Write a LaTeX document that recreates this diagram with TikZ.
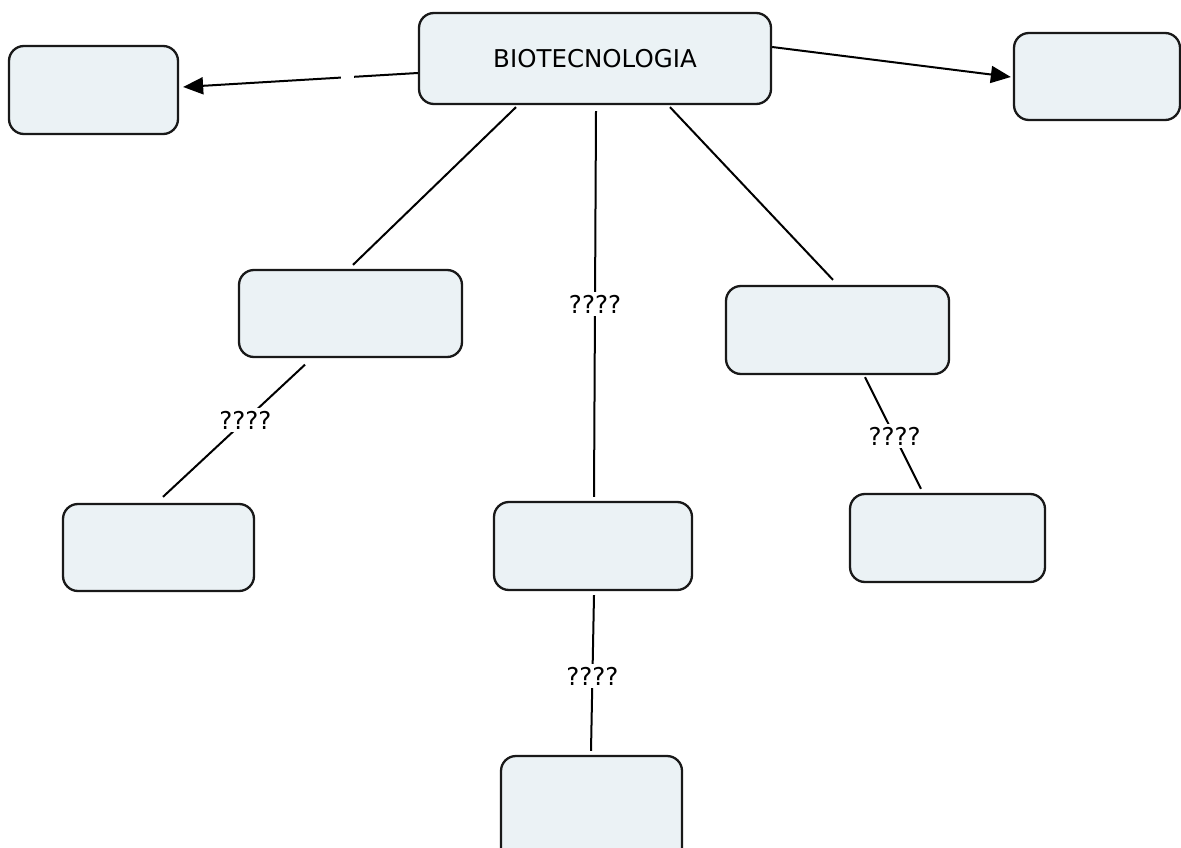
\documentclass[tikz,border=0pt]{standalone}
\usepackage{fontspec}
\setmainfont{DejaVu Sans}
\usetikzlibrary{arrows.meta}
\definecolor{boxfill}{RGB}{235,242,245}
\tikzset{
  box/.style={draw=black!90, fill=boxfill, line width=2.3pt, rounded corners=15pt, inner sep=0pt},
  conn/.style={draw=black, line width=2pt},
  arr/.style={conn, -{Triangle[length=20pt,width=17pt]}},
  txt/.style={font=\fontsize{24.5}{29}\selectfont},
  lbl/.style={txt, fill=white, inner sep=3pt},
  gap/.style={fill=white, inner sep=0pt, minimum width=13pt, minimum height=6pt}
}
\begin{document}
\begin{tikzpicture}[x=1pt,y=-1pt]
\useasboundingbox (0,0) rectangle (1181,848);
\clip (0,0) rectangle (1181,848);
\fill[white] (0,0) rectangle (1181,848);
% boxes
\node[box, txt, minimum width=352pt, minimum height=91pt] (bio) at (595,58.5) {BIOTECNOLOGIA};
\node[box, minimum width=169pt, minimum height=88pt] (tl) at (93.5,90) {};
\node[box, minimum width=166pt, minimum height=87pt] (tr) at (1097,76.5) {};
\node[box, minimum width=223pt, minimum height=87pt] (ml) at (350.5,313.5) {};
\node[box, minimum width=223pt, minimum height=88pt] (mr) at (837.5,330) {};
\node[box, minimum width=191pt, minimum height=87pt] (bl) at (158.5,547.5) {};
\node[box, minimum width=198pt, minimum height=88pt] (c) at (593,546) {};
\node[box, minimum width=195pt, minimum height=88pt] (rl) at (947.5,538) {};
\node[box, minimum width=181pt, minimum height=110pt] (b) at (591.5,811) {};
% connectors
\draw[arr] ([yshift=-14.5pt]bio.west) -- node[gap, pos=0.3] {} ([xshift=4pt,yshift=3pt]tl.east);
\draw[arr] ([yshift=11.5pt]bio.east) -- ([xshift=-2pt,yshift=-0.5pt]tr.west);
\draw[conn] ([xshift=-79pt,yshift=-2pt]bio.south) -- ([xshift=2.5pt,yshift=4pt]ml.north);
\draw[conn] ([xshift=1pt,yshift=-6pt]bio.south) -- node[lbl, pos=0.5] {????} ([xshift=1pt,yshift=4pt]c.north);
\draw[conn] ([xshift=75pt,yshift=-2pt]bio.south) -- ([xshift=-4.5pt,yshift=5pt]mr.north);
\draw[conn] ([xshift=-45.5pt,yshift=-6.5pt]ml.south) -- node[lbl, pos=0.42] {????} ([xshift=4.5pt,yshift=6pt]bl.north);
\draw[conn] ([xshift=1pt,yshift=-4pt]c.south) -- node[lbl, pos=0.52] {????} ([xshift=-0.5pt,yshift=4pt]b.north);
\draw[conn] ([xshift=27.5pt,yshift=-2pt]mr.south) -- node[lbl, pos=0.53] {????} ([xshift=-26.5pt,yshift=4pt]rl.north);
\end{tikzpicture}
\end{document}
